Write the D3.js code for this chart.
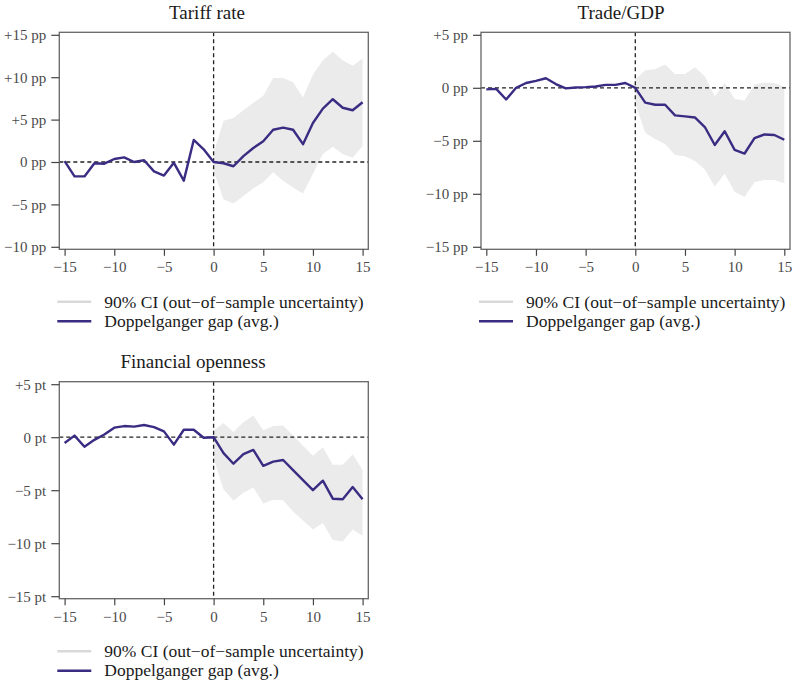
<!DOCTYPE html>
<html>
<head>
<meta charset="utf-8">
<script src="https://cdn.jsdelivr.net/npm/d3@7"></script>
<style>
  html, body { margin: 0; padding: 0; background: #fff; }
  svg { display: block; }
  text { font-family: "Liberation Serif", "Times New Roman", serif; }
</style>
</head>
<body>
<svg id="chart" width="799" height="687"></svg>
<script>
// Event time (years relative to treatment) and the post-treatment window
const horizon = [-15,-14,-13,-12,-11,-10,-9,-8,-7,-6,-5,-4,-3,-2,-1,0,1,2,3,4,5,6,7,8,9,10,11,12,13,14,15];
const ciHorizon = [0,1,2,3,4,5,6,7,8,9,10,11,12,13,14,15];
const xTicks = [-15,-10,-5,0,5,10,15];

// Tariff rate (pp)
const tariffGap = [0.1,-1.7,-1.7,-0.15,-0.2,0.35,0.55,0,0.2,-1.1,-1.6,-0.1,-2.2,2.6,1.5,
                   0,-0.15,-0.5,0.7,1.65,2.45,3.8,4.05,3.8,2.1,4.6,6.3,7.4,6.4,6.1,7.05];
const tariffCiHigh = [1.0,4.85,5.2,6.1,7.0,7.8,9.9,9.9,9.4,7.6,10.3,12.0,13.0,12.0,11.35,12.2];
const tariffCiLow  = [-1.0,-4.4,-4.9,-4.0,-3.1,-2.4,-1.2,-2.2,-3.0,-3.7,-1.4,0.95,1.8,0.95,0.5,1.9];
const tariffTicks = [-10,-5,0,5,10,15];

// Trade/GDP (pp)
const tradeGap = [-0.15,-0.1,-1.1,0,0.45,0.65,0.9,0.35,-0.05,0.03,0.06,0.12,0.28,0.28,0.45,
                  0,-1.4,-1.6,-1.6,-2.6,-2.7,-2.8,-3.7,-5.4,-4.1,-5.85,-6.2,-4.75,-4.4,-4.45,-4.9];
const tradeCiHigh = [0.8,1.65,1.75,2.2,1.3,1.3,1.95,1.1,-0.8,0.45,-1.05,-1.2,0.3,0.5,0.45,0.1];
const tradeCiLow  = [-1.5,-4.25,-4.85,-5.3,-6.35,-6.45,-6.9,-7.7,-9.3,-8.1,-9.8,-10.3,-8.9,-8.7,-8.7,-9.0];
const tradeTicks = [-15,-10,-5,0,5];

// Financial openness (pt)
const finGap = [-0.55,0.15,-0.9,-0.25,0.25,0.9,1.05,1.0,1.15,0.95,0.55,-0.7,0.7,0.7,-0.05,
                0,-1.5,-2.5,-1.6,-1.2,-2.7,-2.3,-2.15,-3.1,-4.05,-5.0,-4.1,-5.8,-5.85,-4.7,-5.85];
const finCiHigh = [0.6,1.35,0.5,1.4,2.05,0.65,1.05,1.1,0.15,-0.8,-1.75,-0.95,-2.6,-2.6,-1.6,-3.1];
const finCiLow  = [-2.0,-4.9,-6.0,-5.25,-4.75,-6.25,-5.9,-5.95,-7.0,-7.85,-8.7,-8.1,-9.7,-9.85,-8.7,-9.3];
const finTicks = [-15,-10,-5,0,5];

const legendLabels = ["90% CI (out\u2212of\u2212sample uncertainty)", "Doppelganger gap (avg.)"];

const LINE_COLOR = "#3a2c82";
const BAND_COLOR = "#ebebeb";
const LEGEND_BAND = "#d9d9d9";

const panels = [
  { title: "Tariff rate", unit: "pp", gap: tariffGap, hi: tariffCiHigh, lo: tariffCiLow,
    ticks: tariffTicks, left: 59.3, top: 32.3, titleX: 207 },
  { title: "Trade/GDP", unit: "pp", gap: tradeGap, hi: tradeCiHigh, lo: tradeCiLow,
    ticks: tradeTicks, left: 481, top: 32.3, titleX: 621 },
  { title: "Financial openness", unit: "pt", gap: finGap, hi: finCiHigh, lo: finCiLow,
    ticks: finTicks, left: 59.3, top: 381.7, titleX: 193 }
];

const W = 309, H = 217;
const svg = d3.select("#chart");

function fmt(v, unit) {
  if (v > 0) return "+" + v + " " + unit;
  if (v < 0) return "\u2212" + Math.abs(v) + " " + unit;
  return "0 " + unit;
}

panels.forEach(p => {
  const g = svg.append("g").attr("transform", `translate(${p.left},${p.top})`);
  const yMin = d3.min(p.ticks), yMax = d3.max(p.ticks);
  const x = d3.scaleLinear().domain([-15, 15]).range([5.3, W - 5.7]);
  const y = d3.scaleLinear().domain([yMin, yMax]).range([H - 2.5, 2.5]);

  // confidence band
  const area = d3.area()
    .x((d, i) => x(ciHorizon[i]))
    .y0((d, i) => y(p.lo[i]))
    .y1((d, i) => y(p.hi[i]));
  g.append("path").datum(ciHorizon).attr("d", area).attr("fill", BAND_COLOR);

  // reference lines
  g.append("line").attr("x1", 0).attr("x2", W).attr("y1", y(0)).attr("y2", y(0))
    .attr("stroke", "#222").attr("stroke-width", 1.3).attr("stroke-dasharray", "4,3");
  g.append("line").attr("x1", x(0)).attr("x2", x(0)).attr("y1", 0).attr("y2", H)
    .attr("stroke", "#222").attr("stroke-width", 1.3).attr("stroke-dasharray", "4,3");

  // gap line
  const line = d3.line().x((d, i) => x(horizon[i])).y(d => y(d));
  g.append("path").datum(p.gap).attr("d", line)
    .attr("fill", "none").attr("stroke", LINE_COLOR).attr("stroke-width", 2.4)
    .attr("stroke-linejoin", "round");

  // frame
  g.append("rect").attr("x", 0).attr("y", 0).attr("width", W).attr("height", H)
    .attr("fill", "none").attr("stroke", "#666").attr("stroke-width", 1.3);

  // axes
  const yAxis = g.append("g")
    .call(d3.axisLeft(y).tickValues(p.ticks).tickSize(8).tickPadding(5)
      .tickFormat(v => fmt(v, p.unit)));
  yAxis.select(".domain").remove();
  yAxis.selectAll("line").attr("stroke", "#444").attr("stroke-width", 1.2);
  yAxis.selectAll("text").attr("font-size", 15).attr("fill", "#4a4a4a")
    .attr("font-family", "Liberation Serif");

  const xAxis = g.append("g").attr("transform", `translate(0,${H})`)
    .call(d3.axisBottom(x).tickValues(xTicks).tickSize(6.5).tickPadding(6)
      .tickFormat(v => v < 0 ? "\u2212" + Math.abs(v) : String(v)));
  xAxis.select(".domain").remove();
  xAxis.selectAll("line").attr("stroke", "#444").attr("stroke-width", 1.2);
  xAxis.selectAll("text").attr("font-size", 15).attr("fill", "#4a4a4a")
    .attr("font-family", "Liberation Serif");

  // title
  svg.append("text").attr("x", p.titleX).attr("y", p.top - 13.5)
    .attr("text-anchor", "middle").attr("font-size", 19).attr("fill", "#1a1a1a")
    .text(p.title);

  // legend
  const lg = svg.append("g").attr("transform", `translate(${p.left},${p.top + H})`);
  const rows = [
    { label: legendLabels[0], color: LEGEND_BAND, dy: 52.5 },
    { label: legendLabels[1], color: LINE_COLOR, dy: 72 }
  ];
  rows.forEach(r => {
    lg.append("line").attr("x1", -2).attr("x2", 32).attr("y1", r.dy).attr("y2", r.dy)
      .attr("stroke", r.color).attr("stroke-width", 2.4);
    lg.append("text").attr("x", 45).attr("y", r.dy).attr("dy", "0.33em")
      .attr("font-size", 17.5).attr("fill", "#1a1a1a").text(r.label);
  });
});
</script>
</body>
</html>
